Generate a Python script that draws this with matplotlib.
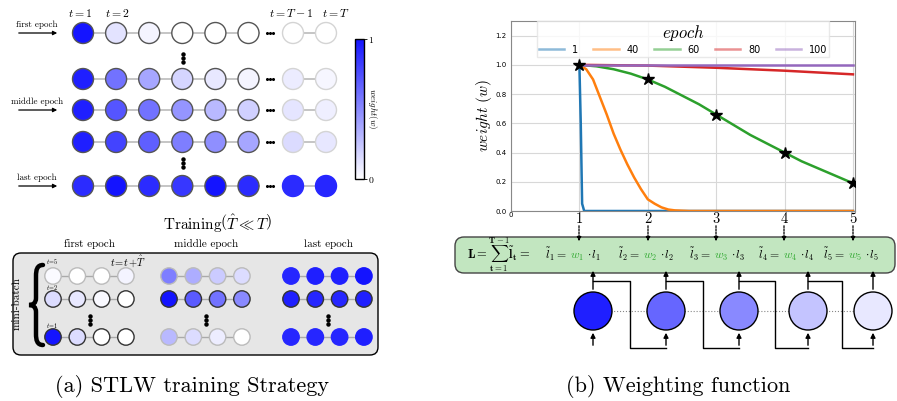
### STLW figure: (a) training strategy diagram, (b) weighting function
import numpy as np
from matplotlib import pyplot as plt
from matplotlib.patches import Circle, FancyBboxPatch, PathPatch
from matplotlib.path import Path
from matplotlib.colors import LinearSegmentedColormap
from matplotlib.cm import ScalarMappable

plt.rcParams.update({'font.family': 'serif',
                     'font.serif': ['cmr10', 'DejaVu Serif'],
                     'mathtext.fontset': 'cm',
                     'axes.formatter.use_mathtext': True})

###############################################################################
### data
###############################################################################

# (a) top grid: weight per time step, one row per epoch snapshot
grid_rows = ['first epoch', '', 'middle epoch', '', 'last epoch']
grid_w = [[1.00, 0.12, 0.05, 0.00, 0.00, 0.00, 0.00, 0.00],
          [0.95, 0.60, 0.38, 0.18, 0.10, 0.05, 0.12, 0.06],
          [0.95, 0.72, 0.60, 0.45, 0.30, 0.20, 0.16, 0.10],
          [0.95, 0.80, 0.68, 0.55, 0.48, 0.38, 0.22, 0.15],
          [0.90, 1.00, 0.90, 0.85, 1.00, 0.90, 0.90, 0.92]]
grid_top = ['$t=1$', '$t=2$', '$t=T-1$', '$t=T$']

# (a) bottom box: mini-batch rows (top, middle, bottom) for each epoch
batch_groups = ['first epoch', 'middle epoch', 'last epoch']
batch_w = [[[0.02, 0.00, 0.00, 0.05],
            [0.15, 0.10, 0.03, 0.00],
            [1.00, 0.15, 0.00, 0.00]],
           [[0.55, 0.35, 0.22, 0.15],
            [1.00, 0.70, 0.60, 0.50],
            [0.30, 0.15, 0.08, 0.00]],
           [[0.92, 0.95, 0.95, 1.00],
            [0.95, 0.92, 0.92, 0.95],
            [0.92, 0.92, 0.92, 0.95]]]
batch_fade = [[True, False, False], [True, False, True], [False, False, False]]

# (b) weighting curves, weight vs time step
epochs = ['1', '40', '60', '80', '100']
x_e1 = [1.0, 1.02, 1.04, 1.07, 2.0, 5.0]
w_e1 = [1.0, 0.60, 0.05, 0.0, 0.0, 0.0]
x_e40 = [1.0, 1.1, 1.2, 1.3, 1.4, 1.5, 1.6, 1.7, 1.8, 1.9, 2.0, 2.1, 2.2, 2.3, 2.4, 2.6, 5.0]
w_e40 = [1.0, 0.97, 0.90, 0.78, 0.66, 0.53, 0.42, 0.32, 0.23, 0.15, 0.08, 0.05, 0.025, 0.01, 0.004, 0.0, 0.0]
x_e60 = [1.0, 1.25, 1.5, 1.75, 2.0, 2.25, 2.5, 2.75, 3.0, 3.25, 3.5, 3.75, 4.0, 4.25, 4.5, 4.75, 5.0]
w_e60 = [1.0, 0.99, 0.97, 0.94, 0.90, 0.85, 0.79, 0.73, 0.66, 0.59, 0.52, 0.46, 0.40, 0.34, 0.29, 0.24, 0.19]
x_e80 = [1.0, 2.0, 3.0, 4.0, 5.0]
w_e80 = [1.0, 0.995, 0.98, 0.96, 0.935]
x_e100 = [1.0, 5.0]
w_e100 = [1.0, 1.0]
star_t = [1, 2, 3, 4, 5]
star_w = [1.0, 0.90, 0.66, 0.40, 0.19]

# (b) unrolled cells
cell_w = [0.95, 0.65, 0.50, 0.25, 0.10]

###############################################################################
### canvas
###############################################################################

fig = plt.figure(figsize=(8.97, 4.01), dpi=100)
ax = fig.add_axes([0, 0, 1, 1])
ax.set_xlim(0, 897)
ax.set_ylim(401, 0)
ax.axis('off')

cmap = LinearSegmentedColormap.from_list('wblue', ['white', '#1414ff'])


def dot_col(x, y):
    ax.plot([x, x, x], [y - 4, y, y + 4], 'o', color='k', ms=2.2, zorder=5)


def dot_row(x, y):
    ax.plot([x - 3, x, x + 3], [y, y, y], 'o', color='k', ms=1.2, zorder=5)


###############################################################################
### (a) top grid
###############################################################################

gx = [83 + 33.1 * i for i in range(6)] + [293, 326]
gy = [33, 79, 110, 142, 186]

for r, row in enumerate(grid_w):
    y = gy[r]
    ax.plot([gx[0], gx[5] + 10], [y, y], color='#bbbbbb', lw=1.2, zorder=1)
    ax.plot([gx[6] - 5, gx[7]], [y, y], color='#bbbbbb', lw=1.2, zorder=1)
    dot_row(270, y)
    for i, w in enumerate(row):
        faded = i >= 6
        fc = cmap(w)
        ec = '#555555'
        if faded:
            ec = cmap(w) if r == 4 else '#d4d4d4'
            if r != 4:
                fc = cmap(w * 0.7)
        c = Circle((gx[i], y), 10.5, fc=fc, ec=ec, lw=1.0, zorder=3)
        ax.add_patch(c)
    if grid_rows[r]:
        ax.text(37, y - 4, grid_rows[r], ha='center', va='bottom', fontsize=6.5)
        ax.annotate('', xy=(60, y), xytext=(16, y),
                    arrowprops=dict(arrowstyle='-|>', color='k', lw=0.9,
                                    mutation_scale=6))

dot_col(183, 58)
dot_col(183, 163)

for lbl, x in zip(grid_top, [80, 117, 291, 336]):
    ax.text(x, 13, lbl, ha='center', va='center', fontsize=8.5)

cax = fig.add_axes([355 / 897, 1 - 179 / 401, 9 / 897, 140 / 401])
cb = fig.colorbar(ScalarMappable(cmap=cmap), cax=cax, ticks=[0, 1])
cb.ax.tick_params(labelsize=7, length=2, width=0.6, pad=1)
cb.set_label('$weight(w)$', rotation=270, fontsize=6.5, labelpad=3)
cb.outline.set_linewidth(1.0)

###############################################################################
### (a) mini-batch box
###############################################################################

ax.text(217, 224, r'Training$\left(\hat{T} \ll T\right)$', ha='center', va='center', fontsize=11)

box = FancyBboxPatch((13, 253), 365, 102, boxstyle='round,pad=0,rounding_size=8',
                     fc='#e6e6e6', ec='k', lw=1.0, zorder=0)
ax.add_patch(box)

bx0 = [53, 169, 291]
by = [276, 299, 337]
for g, group in enumerate(batch_w):
    ax.text(bx0[g] + 37, 244, batch_groups[g], ha='center', va='center', fontsize=8)
    for r, row in enumerate(group):
        xs = [bx0[g] + 24.3 * i for i in range(4)]
        ax.plot([xs[0], xs[-1]], [by[r], by[r]], color='#aaaaaa', lw=1.0, zorder=1)
        for i, w in enumerate(row):
            if g == 2:
                ec = '#333333' if r == 1 else cmap(w)
            else:
                ec = '#bbbbbb' if batch_fade[g][r] else '#333333'
            ax.add_patch(Circle((xs[i], by[r]), 8.2, fc=cmap(w), ec=ec, lw=1.0, zorder=3))
    dot_col(bx0[g] + 37, 320)

ax.text(52, 262, '$t\\!=\\!5$', ha='center', va='center', fontsize=4.5)
ax.text(52, 288, '$t\\!=\\!2$', ha='center', va='center', fontsize=4.5)
ax.text(52, 326, '$t\\!=\\!1$', ha='center', va='center', fontsize=4.5)
ax.text(128, 261, r'$t\!=t\!+\!\hat{T}$', ha='center', va='center', fontsize=7.5)

# curly brace for the mini-batch
bv = [(43, 265), (37, 265), (36, 270), (36, 276),
      (36, 298),
      (36, 303), (33, 305), (29, 305),
      (33, 305), (36, 307), (36, 312),
      (36, 334),
      (36, 340), (37, 345), (43, 345)]
bc = [Path.MOVETO, Path.CURVE4, Path.CURVE4, Path.CURVE4,
      Path.LINETO,
      Path.CURVE4, Path.CURVE4, Path.CURVE4,
      Path.CURVE4, Path.CURVE4, Path.CURVE4,
      Path.LINETO,
      Path.CURVE4, Path.CURVE4, Path.CURVE4]
ax.add_patch(PathPatch(Path(bv, bc), fc='none', ec='k', lw=3.2, capstyle='round', zorder=4))
ax.text(17, 303, 'mini-batch', ha='center', va='center', rotation=90, fontsize=8)

ax.text(192, 386, '(a) STLW training Strategy', ha='center', va='center', fontsize=16)

###############################################################################
### (b) weighting function plot
###############################################################################

pax = fig.add_axes([511 / 897, 1 - 211 / 401, 344 / 897, 190 / 401])
pax.plot(x_e1, w_e1, lw=1.8, label=epochs[0])
pax.plot(x_e40, w_e40, lw=1.8, label=epochs[1])
pax.plot(x_e60, w_e60, lw=1.8, label=epochs[2])
pax.plot(x_e80, w_e80, lw=1.8, label=epochs[3])
pax.plot(x_e100, w_e100, lw=1.8, label=epochs[4])
pax.plot(star_t, star_w, '*', color='k', ms=9, zorder=5)

pax.set_xlim(0, 5.03)
pax.set_ylim(0, 1.3)
pax.set_yticks(np.arange(0, 1.21, 0.2))
pax.set_yticklabels(['%.1f' % v for v in np.arange(0, 1.21, 0.2)], family='DejaVu Sans')
pax.set_xticks(range(6))
pax.set_xticklabels(['0', '1', '2', '3', '4', '5'])
for i, lbl in enumerate(pax.get_xticklabels()):
    if i == 0:
        lbl.set_fontsize(5)
        lbl.set_family('DejaVu Sans')
    else:
        lbl.set_fontsize(10.5)
pax.tick_params(axis='y', labelsize=5, length=0, pad=3)
pax.tick_params(axis='x', length=0, pad=1)
pax.grid(True, color='#d8d8d8', lw=0.8)
for s in pax.spines.values():
    s.set_color('#888888')
    s.set_linewidth(0.8)
pax.set_ylabel('$weight\\ (w)$', fontsize=11, labelpad=1)

leg = pax.legend(loc='upper center', ncol=5, title='$epoch$', title_fontsize=12,
                 prop={'family': 'DejaVu Sans', 'size': 7}, borderaxespad=0,
                 handlelength=2.6, columnspacing=1.6, borderpad=0.2,
                 labelspacing=0.2, fancybox=False, framealpha=0.8,
                 edgecolor='#e4e4e4')
for h in leg.legend_handles:
    h.set_alpha(0.5)

###############################################################################
### (b) loss box and unrolled cells
###############################################################################

tx = [579, 648, 716, 784, 853]
for x in tx:
    ax.annotate('', xy=(x, 244), xytext=(x, 223),
                arrowprops=dict(arrowstyle='-|>', color='k', lw=0.9, ls=(0, (1.5, 1)),
                                mutation_scale=6))

lbox = FancyBboxPatch((455, 237), 440, 36, boxstyle='round,pad=0,rounding_size=9',
                      fc='#c2e6c0', ec='#444444', lw=1.0, zorder=2)
ax.add_patch(lbox)
ax.text(467, 255, r'$\mathbf{L} = \sum_{\mathbf{t=1}}^{\mathbf{T-1}}\tilde{\mathbf{l}}_\mathbf{t} =$',
        ha='left', va='center', fontsize=9, zorder=4)

# loss terms: black / green / black pieces laid out from measured widths
renderer = fig.canvas.get_renderer()
ls_x = [545, 618, 689, 758, 823]
y_base = 259
for i, x0 in enumerate(ls_x):
    parts = [(r'$\tilde{l}_%d =$' % (i + 1), 'k'),
             (r'$w_%d$' % (i + 1), '#33aa33'),
             (r'$\cdot\, l_%d$' % (i + 1), 'k')]
    x = x0
    for s, col in parts:
        t = ax.text(x, y_base, s, ha='left', va='baseline', fontsize=8.5, color=col, zorder=4)
        bb = t.get_window_extent(renderer)
        x = x + bb.width + 3

cx = [593, 666, 739, 808, 873]
cy = 311
ax.plot([cx[0], cx[-1]], [cy, cy], color='#888888', lw=0.8, ls=':', zorder=1)
turn = [630, 703, 775, 842]
for i, w in enumerate(cell_w):
    ax.add_patch(Circle((cx[i], cy), 19, fc=cmap(w), ec='k', lw=1.0, zorder=3))
    ax.annotate('', xy=(cx[i], 268), xytext=(cx[i], 292),
                arrowprops=dict(arrowstyle='-|>', color='k', lw=1.0, mutation_scale=7),
                zorder=4)
    ax.annotate('', xy=(cx[i], 330), xytext=(cx[i], 348),
                arrowprops=dict(arrowstyle='-|>', color='k', lw=1.0, mutation_scale=7),
                zorder=4)
    if i < 4:
        ax.plot([cx[i], turn[i], turn[i], cx[i + 1]], [281, 281, 348, 348],
                color='k', lw=1.0, zorder=1)

ax.text(678, 386, '(b) Weighting function', ha='center', va='center', fontsize=16)

fig.savefig('out.png', dpi=100)
